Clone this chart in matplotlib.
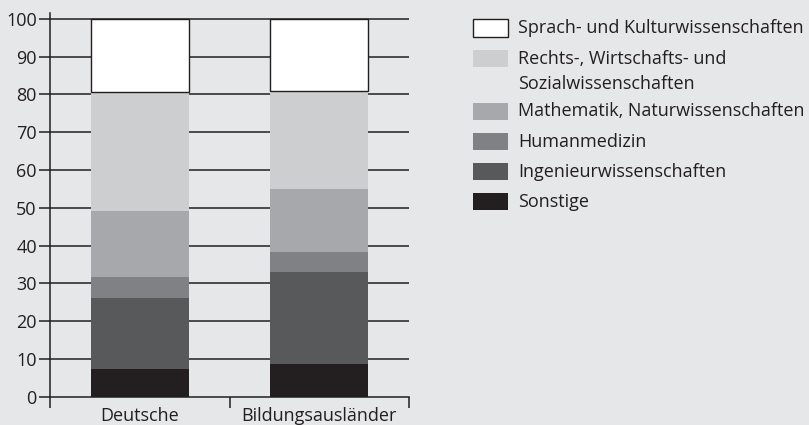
import matplotlib
matplotlib.use("Agg")
import matplotlib.pyplot as plt
from matplotlib.patches import Rectangle
import numpy as np

categories = ["Deutsche", "Bildungsausländer"]
series_names = ["Sonstige", "Ingenieurwissenschaften", "Humanmedizin",
                "Mathematik, Naturwissenschaften",
                "Rechts-, Wirtschafts- und\nSozialwissenschaften",
                "Sprach- und Kulturwissenschaften"]
values = {
    "Sonstige": [7.3, 8.7],
    "Ingenieurwissenschaften": [18.8, 24.3],
    "Humanmedizin": [5.6, 5.3],
    "Mathematik, Naturwissenschaften": [17.4, 16.6],
    "Rechts-, Wirtschafts- und\nSozialwissenschaften": [31.4, 25.9],
    "Sprach- und Kulturwissenschaften": [19.5, 19.2],
}
colors = ["#231f20", "#58595b", "#808184", "#a7a8ab", "#cdcecf", "#ffffff"]
yticks = [0, 10, 20, 30, 40, 50, 60, 70, 80, 90, 100]

BG = "#e6e7e8"
INK = "#231f20"
plt.rcParams['font.family'] = ['Open Sans', 'DejaVu Sans']
FS = 13

fig = plt.figure(figsize=(8.09, 4.25), dpi=100, facecolor=BG)
ax = fig.add_axes([50/809, 1-396.7/425, 359/809, 384/425])
ax.set_facecolor(BG)

x = np.arange(len(categories))
bottom = np.zeros(len(categories))
for name, col in zip(series_names, colors):
    v = np.array(values[name])
    if col == "#ffffff":
        ax.bar(x, v, 0.545, bottom=bottom, color=col, edgecolor=INK, linewidth=1.0, zorder=3)
    else:
        ax.bar(x, v, 0.545, bottom=bottom, color=col, linewidth=0, zorder=3)
    bottom += v

ax.set_xlim(-0.5, 1.5)
ax.set_ylim(0, 101.6)
ax.set_yticks(yticks)
ax.set_yticklabels([str(t) for t in yticks], fontsize=FS, color=INK)
for t in yticks[1:]:
    ax.axhline(t, color=INK, linewidth=1.1, zorder=1)

ax.set_xticks(x)
ax.set_xticklabels(categories, fontsize=FS, color=INK)
ax.tick_params(axis='x', which='major', length=0, pad=7.5)
ax.set_xticks([-0.5, 0.5, 1.5], minor=True)
ax.tick_params(axis='x', which='minor', length=8, width=1.1, color=INK, direction='out')
ax.tick_params(axis='y', length=8, width=1.1, color=INK, pad=1.5)

for s in ["top", "right"]:
    ax.spines[s].set_visible(False)
for s in ["left", "bottom"]:
    ax.spines[s].set_color(INK)
    ax.spines[s].set_linewidth(1.1)

# legend drawn manually, top to bottom
leg_names = series_names[::-1]
leg_cols = colors[::-1]
row_y = [28, 58.7, 111.4, 141.7, 171.7, 201.7]
for name, col, yc in zip(leg_names, leg_cols, row_y):
    ec = INK if col == "#ffffff" else "none"
    fig.patches.append(Rectangle((473/809, 1-(yc+8.5)/425), 35/809, 17/425,
                                 transform=fig.transFigure, facecolor=col,
                                 edgecolor=ec, linewidth=1.0))
    lines = name.split("\n")
    for i, ln in enumerate(lines):
        fig.text(518/809, 1-(yc + i*25.5)/425, ln, fontsize=FS, color=INK,
                 va='center', ha='left')

fig.savefig("out.png", dpi=100, facecolor=BG)
